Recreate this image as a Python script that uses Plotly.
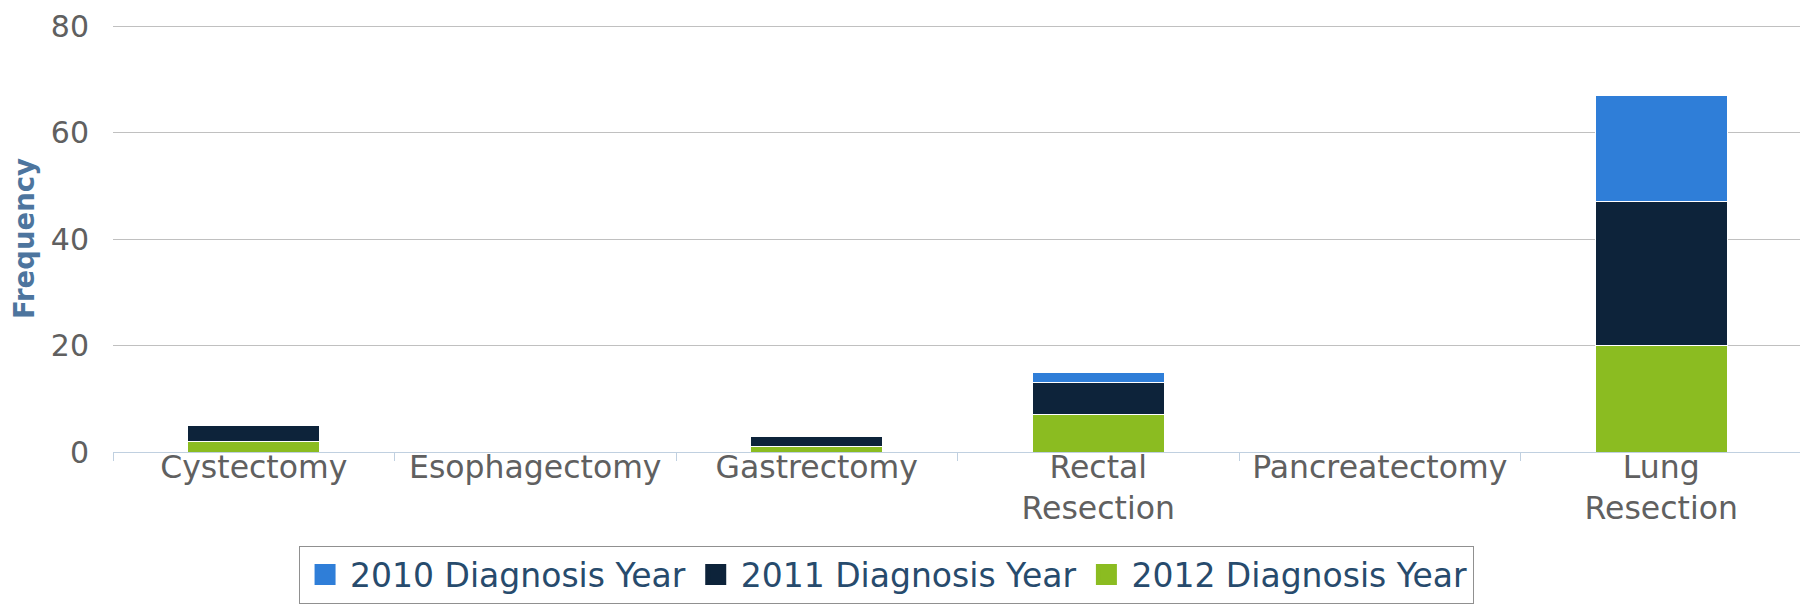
import plotly.graph_objects as go

categories = ["Cystectomy", "Esophagectomy", "Gastrectomy", "Rectal<br>Resection",
              "Pancreatectomy", "Lung<br>Resection"]
y2010 = [0, 0, 0, 2, 0, 20]
y2011 = [3, 0, 2, 6, 0, 27]
y2012 = [2, 0, 1, 7, 0, 20]
ytick_vals = [0, 20, 40, 60, 80]

font = "DejaVu Sans"
series = [("2010 Diagnosis Year", y2010, "#2f7ed8"),
          ("2011 Diagnosis Year", y2011, "#0d233a"),
          ("2012 Diagnosis Year", y2012, "#8bbc21")]

fig = go.Figure()
# bottom of the stack first
for name, vals, color in reversed(series):
    fig.add_trace(go.Bar(
        x=categories, y=vals, name=name, showlegend=False,
        marker=dict(color=color, line=dict(color="white", width=1)),
    ))
# legend entries with bigger square swatches
for name, vals, color in series:
    fig.add_trace(go.Scatter(
        x=[None], y=[None], mode="markers", name=name,
        marker=dict(symbol="square", size=16, color=color,
                    line=dict(color=color, width=5)),
    ))

# page body has an 8px margin, so the figure is 8px smaller
fig.update_layout(
    width=1800, height=601,
    barmode="stack", bargap=0.53,
    paper_bgcolor="white", plot_bgcolor="white",
    margin=dict(l=105, r=6, t=17, b=157, autoexpand=False),
    font=dict(family=font, color="#606060"),
    legend=dict(
        orientation="h", traceorder="normal",
        x=0.458, xanchor="center", y=-0.219, yanchor="top",
        bordercolor="#909090", borderwidth=1,
        font=dict(size=33, color="#274b6d"),
        itemsizing="trace", itemwidth=40,
    ),
)
fig.update_xaxes(
    tickson="boundaries", ticks="outside", ticklen=8, tickcolor="#C0D0E0",
    showline=True, linecolor="#C0D0E0", linewidth=1,
    showgrid=False, tickfont=dict(size=31.5, color="#606060"),
    automargin=False, ticklabelstandoff=-13,
)
fig.update_yaxes(
    range=[0, 80.2], tickvals=ytick_vals,
    showgrid=True, gridcolor="#C0C0C0", gridwidth=1,
    zeroline=False, ticklabelstandoff=23, automargin=False,
    tickfont=dict(size=30, color="#606060"),
    title=dict(text="<b>Frequency</b>", font=dict(size=27.5, color="#4d759e"), standoff=16),
)

fig.write_html("out.html")
